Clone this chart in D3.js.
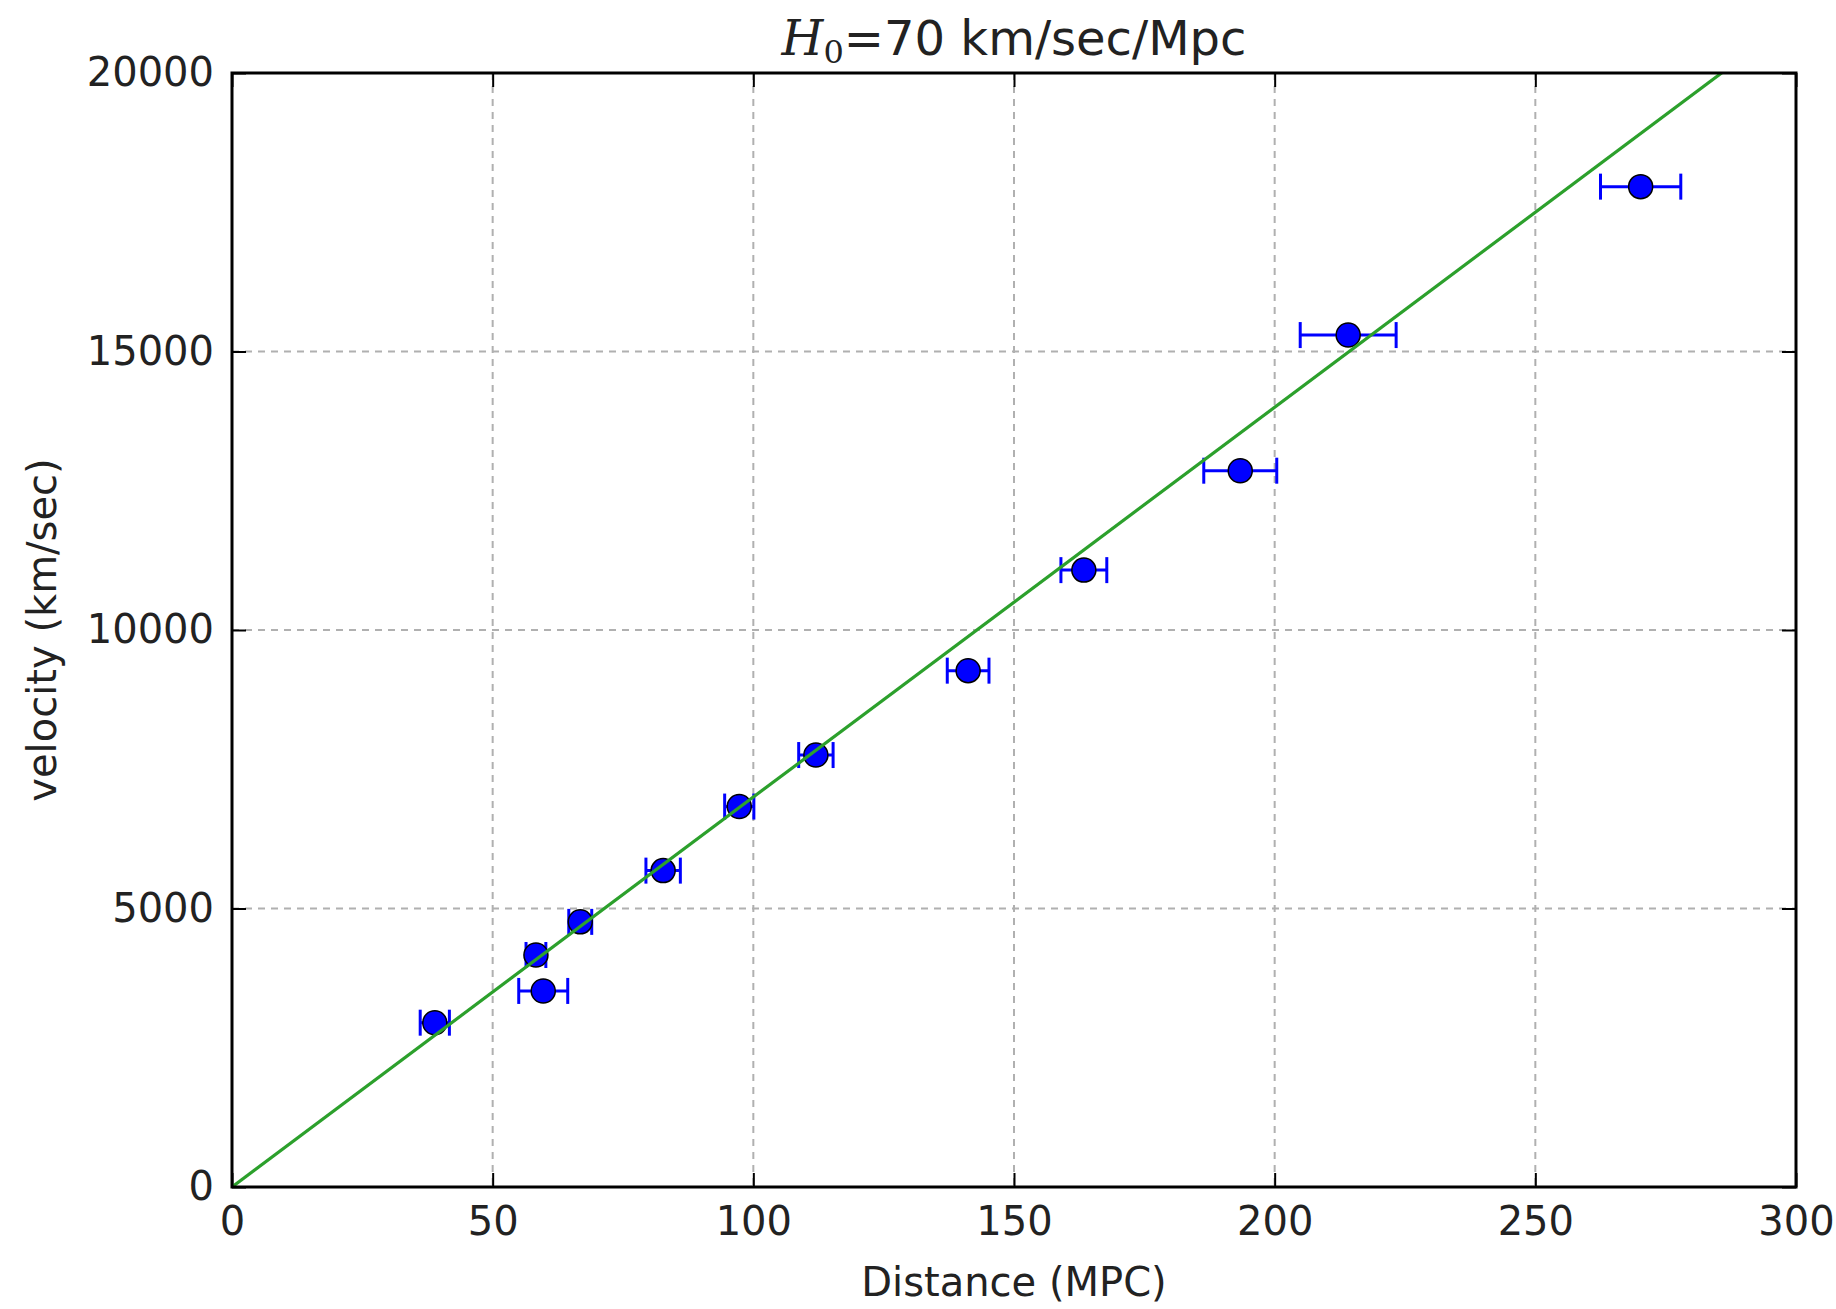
<!DOCTYPE html>
<html>
<head>
<meta charset="utf-8">
<script src="https://cdn.jsdelivr.net/npm/d3@7"></script>
<style>
  html, body { margin: 0; padding: 0; background: #fff; }
  svg { display: block; font-family: "DejaVu Sans", sans-serif; }
</style>
</head>
<body>
<div id="chart"></div>
<script>
const kSvgWidth = 1836;
const kSvgHeight = 1309;
const kLeft = 232;
const kRight = 1796;
const kTop = 73;
const kBottom = 1187;

// data
const distance = [38.9, 58.3, 59.7, 66.8, 82.7, 97.3, 112.0, 141.2, 163.4, 193.4, 214.1, 270.2];
const velocity = [2950, 4165, 3520, 4760, 5680, 6830, 7755, 9270, 11075, 12860, 15295, 17960];
const distanceErr = [2.8, 1.9, 4.7, 2.2, 3.3, 2.8, 3.3, 4.0, 4.4, 7.0, 9.2, 7.7];
const hubble = 70;
const fitDistance = [0, 300];
const xTicks = [0, 50, 100, 150, 200, 250, 300];
const yTicks = [0, 5000, 10000, 15000, 20000];

function createSvg()
{
  const svg = d3.select("#chart")
    .append("svg")
    .attr("width", kSvgWidth)
    .attr("height", kSvgHeight);

  svg.append("rect")
    .attr("width", kSvgWidth)
    .attr("height", kSvgHeight)
    .attr("fill", "#fff");

  return svg;
}

function drawChart(svg)
{
  const xScale = d3.scaleLinear().domain([0, 300]).range([kLeft, kRight]);
  const yScale = d3.scaleLinear().domain([0, 20000]).range([kBottom, kTop]);

  svg.append("clipPath")
    .attr("id", "plotClip")
    .append("rect")
    .attr("x", kLeft)
    .attr("y", kTop)
    .attr("width", kRight - kLeft)
    .attr("height", kBottom - kTop);

  // grid
  const grid = svg.append("g")
    .attr("stroke", "#b0b0b0")
    .attr("stroke-width", 2)
    .attr("stroke-dasharray", "7,6");

  grid.selectAll("line.gx")
    .data(xTicks.slice(1, -1))
    .enter()
    .append("line")
    .attr("x1", d => xScale(d))
    .attr("x2", d => xScale(d))
    .attr("y1", kTop)
    .attr("y2", kBottom);

  grid.selectAll("line.gy")
    .data(yTicks.slice(1, -1))
    .enter()
    .append("line")
    .attr("x1", kLeft)
    .attr("x2", kRight)
    .attr("y1", d => yScale(d))
    .attr("y2", d => yScale(d));

  // axes with inward ticks on all four sides
  const tickLen = 14;
  const fmt = d3.format("d");
  const xAxisBottom = d3.axisBottom(xScale).tickValues(xTicks).tickFormat(fmt).tickSizeInner(-tickLen).tickSizeOuter(0).tickPadding(20);
  const xAxisTop = d3.axisTop(xScale).tickValues(xTicks).tickSizeInner(-tickLen).tickSizeOuter(0).tickFormat("");
  const yAxisLeft = d3.axisLeft(yScale).tickValues(yTicks).tickFormat(fmt).tickSizeInner(-tickLen).tickSizeOuter(0).tickPadding(18);
  const yAxisRight = d3.axisRight(yScale).tickValues(yTicks).tickSizeInner(-tickLen).tickSizeOuter(0).tickFormat("");

  const axes = [
    [xAxisBottom, `translate(0, ${kBottom})`],
    [xAxisTop, `translate(0, ${kTop})`],
    [yAxisLeft, `translate(${kLeft}, 0)`],
    [yAxisRight, `translate(${kRight}, 0)`]
  ];
  axes.forEach(([axis, tr]) => {
    const g = svg.append("g")
      .attr("transform", tr)
      .call(axis);
    g.select(".domain").remove();
    g.selectAll(".tick line").attr("stroke", "#000").attr("stroke-width", 2);
    g.selectAll(".tick text")
      .attr("fill", "#222")
      .style("font-family", "DejaVu Sans")
      .style("font-size", "40px");
  });

  // error bars
  const err = svg.append("g")
    .attr("stroke", "#0000ff")
    .attr("stroke-width", 3);

  err.selectAll("line.bar")
    .data(distance)
    .enter()
    .append("line")
    .attr("x1", (d, i) => xScale(d - distanceErr[i]))
    .attr("x2", (d, i) => xScale(d + distanceErr[i]))
    .attr("y1", (d, i) => yScale(velocity[i]))
    .attr("y2", (d, i) => yScale(velocity[i]));

  const capHalf = 13;
  [-1, 1].forEach(sign => {
    err.selectAll(`line.cap${sign}`)
      .data(distance)
      .enter()
      .append("line")
      .attr("x1", (d, i) => xScale(d + sign * distanceErr[i]))
      .attr("x2", (d, i) => xScale(d + sign * distanceErr[i]))
      .attr("y1", (d, i) => yScale(velocity[i]) - capHalf)
      .attr("y2", (d, i) => yScale(velocity[i]) + capHalf);
  });

  // markers
  svg.append("g")
    .selectAll("circle")
    .data(distance)
    .enter()
    .append("circle")
    .attr("cx", d => xScale(d))
    .attr("cy", (d, i) => yScale(velocity[i]))
    .attr("r", 12)
    .attr("fill", "#0000ff")
    .attr("stroke", "#000")
    .attr("stroke-width", 1.5);

  // Hubble law line
  const line = d3.line()
    .x(d => xScale(d))
    .y(d => yScale(hubble * d));

  svg.append("path")
    .datum(fitDistance)
    .attr("clip-path", "url(#plotClip)")
    .attr("d", line)
    .attr("fill", "none")
    .attr("stroke", "#2ca02c")
    .attr("stroke-width", 3.2);

  // frame
  svg.append("rect")
    .attr("x", kLeft)
    .attr("y", kTop)
    .attr("width", kRight - kLeft)
    .attr("height", kBottom - kTop)
    .attr("fill", "none")
    .attr("stroke", "#000")
    .attr("stroke-width", 3);

  // labels
  svg.append("text")
    .attr("x", (kLeft + kRight) / 2)
    .attr("y", 1296)
    .attr("text-anchor", "middle")
    .attr("fill", "#222")
    .style("font-size", "40px")
    .text("Distance (MPC)");

  svg.append("text")
    .attr("transform", `translate(56, ${(kTop + kBottom) / 2}) rotate(-90)`)
    .attr("text-anchor", "middle")
    .attr("fill", "#222")
    .style("font-size", "40px")
    .text("velocity (km/sec)");

  const title = svg.append("text")
    .attr("x", (kLeft + kRight) / 2)
    .attr("y", 55)
    .attr("text-anchor", "middle")
    .attr("fill", "#222")
    .style("font-size", "48px");
  title.append("tspan")
    .style("font-family", "DejaVu Serif")
    .style("font-style", "italic")
    .text("H");
  title.append("tspan")
    .attr("dy", 8)
    .style("font-family", "DejaVu Serif")
    .style("font-size", "32px")
    .text("0");
  title.append("tspan")
    .attr("dy", -8)
    .text("=70 km/sec/Mpc");
}

document.addEventListener('DOMContentLoaded', () => {
  const svg = createSvg();
  drawChart(svg);
});
</script>
</body>
</html>
